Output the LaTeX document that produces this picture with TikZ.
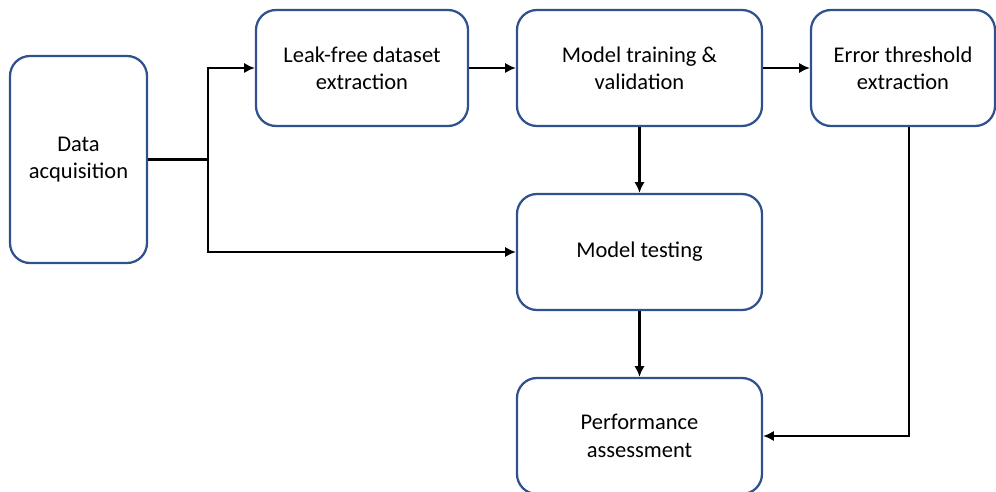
\documentclass[tikz,border=0pt]{standalone}
\usepackage{fontspec}
\setmainfont{Carlito}
\usepackage{tikz}
\usetikzlibrary{arrows.meta}
\definecolor{boxblue}{HTML}{2F528F}

\begin{document}
\begin{tikzpicture}[
  box/.style={draw=boxblue, line width=1.6pt, rounded corners=0.5cm, align=center,
    minimum height=2.9cm, font=\fontsize{16}{19.5}\selectfont},
  arrow/.style={-{Latex[length=2.7mm,width=2.6mm]}, line width=1.6pt}
]
  \useasboundingbox (0,0) rectangle (24.9,-12.3);

  % Input
  \node[box, minimum width=3.425cm, minimum height=5.175cm] (acq) at (1.9625,-3.9875) {Data\\acquisition};

  % Top row
  \node[box, minimum width=5.3cm] (leak) at (9.05,-1.7) {Leak-free dataset\\extraction};
  \node[box, minimum width=6.125cm] (train) at (15.9875,-1.7) {Model training \&\\validation};
  \node[box, minimum width=4.6cm] (err) at (22.575,-1.7) {Error threshold\\extraction};

  % Middle column
  \node[box, minimum width=6.125cm] (test) at (15.9875,-6.3) {Model testing};
  \node[box, minimum width=6.125cm] (perf) at (15.9875,-10.9) {Performance\\assessment};

  % Connections
  \coordinate (split) at (5.2,-3.9875);
  \draw[line width=1.6pt] (acq.east) -- (split);
  \draw[arrow] (split) |- (leak.west);
  \draw[arrow] (split) |- (test.west);
  \draw[arrow] (leak) -- (train);
  \draw[arrow] (train) -- (err);
  \draw[arrow] (train) -- (test);
  \draw[arrow] (test) -- (perf);
  \draw[arrow] ([xshift=0.15cm]err.south) |- (perf.east);
\end{tikzpicture}
\end{document}
